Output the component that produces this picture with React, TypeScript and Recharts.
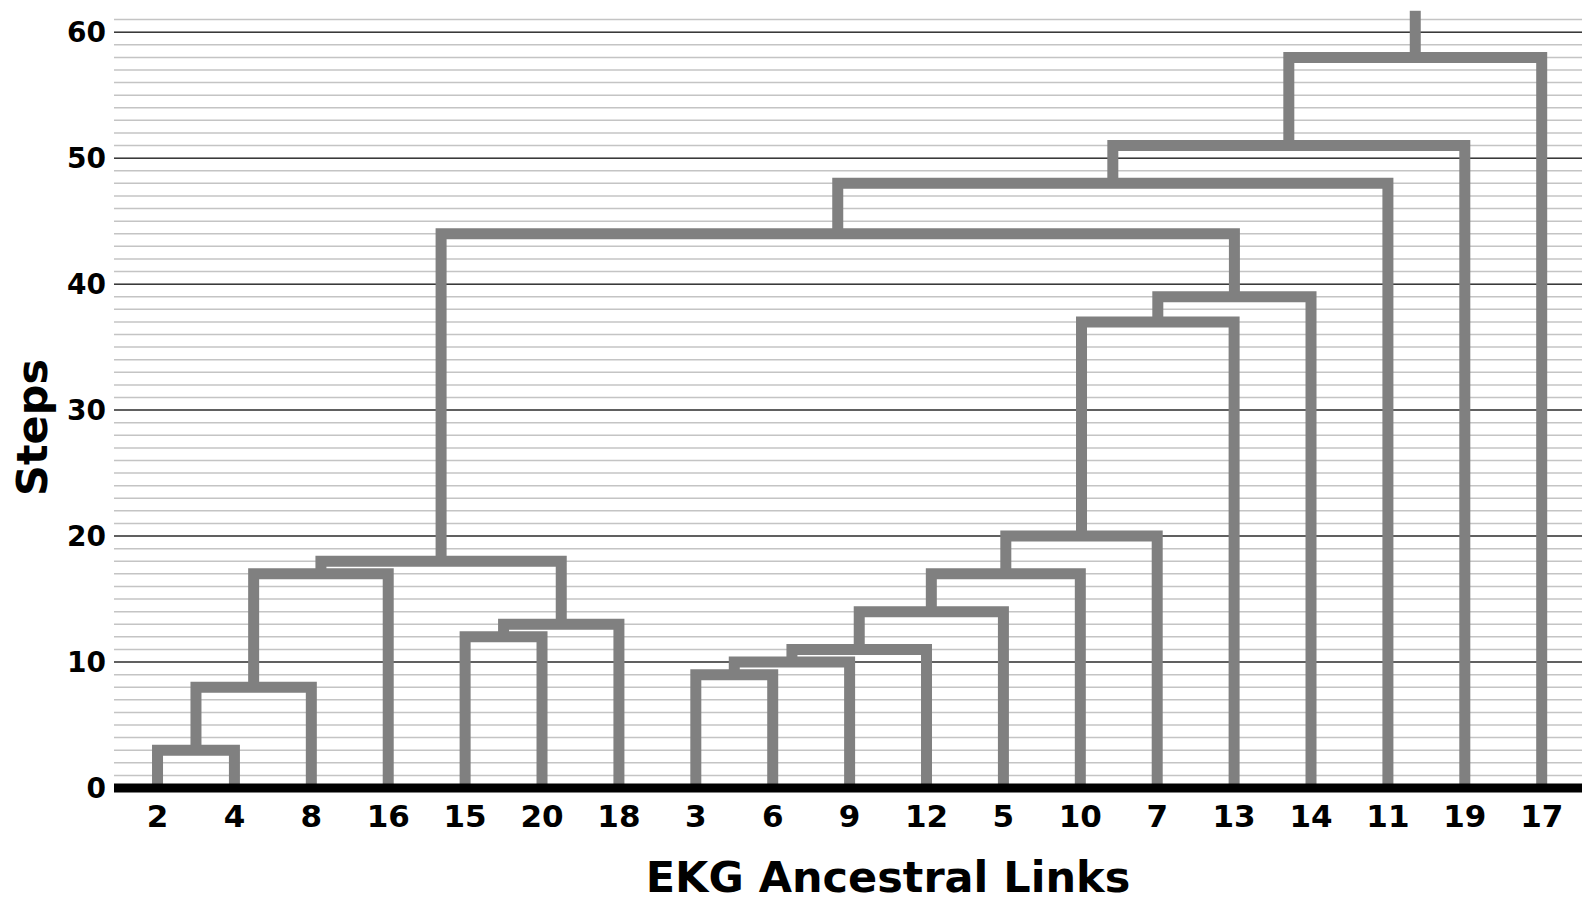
import React from 'react'
import { LineChart, Line, XAxis, YAxis, CartesianGrid } from 'recharts'

// leaves of the dendrogram, left to right
const leafLabels = ['2', '4', '8', '16', '15', '20', '18', '3', '6', '9', '12', '5', '10', '7', '13', '14', '11', '19', '17']

// merge i joins mergeLeft[i] and mergeRight[i] into node `m${i}` at mergeHeight[i]
const mergeLeft = ['2', 'm0', 'm1', '15', 'm3', 'm2', '3', 'm6', 'm7', 'm8', 'm9', 'm10', 'm11', 'm12', 'm5', 'm14', 'm15', 'm16']
const mergeRight = ['4', '8', '16', '20', '18', 'm4', '6', '9', '12', '5', '10', '7', '13', '14', 'm13', '11', '19', '17']
const mergeHeight = [3, 8, 17, 12, 13, 18, 9, 10, 11, 14, 17, 20, 37, 39, 44, 48, 51, 58]
const rootTop = 61.7

const yTicks = [0, 10, 20, 30, 40, 50, 60]
const yMinor = Array.from({ length: 61 }, (_, i) => i + 1)

const FONT = 'DejaVu Sans'
const LINK = '#808080'

type Pt = { x: number; y: number }

function buildLinks(): Pt[][] {
  const pos: Record<string, number> = {}
  const h: Record<string, number> = {}
  leafLabels.forEach((l, i) => {
    pos[l] = i
    h[l] = 0
  })
  const links = mergeHeight.map((height, i) => {
    const a = mergeLeft[i]
    const b = mergeRight[i]
    pos[`m${i}`] = (pos[a] + pos[b]) / 2
    h[`m${i}`] = height
    return [
      { x: pos[a], y: h[a] },
      { x: pos[a], y: height },
      { x: pos[b], y: height },
      { x: pos[b], y: h[b] },
    ]
  })
  const root = `m${mergeHeight.length - 1}`
  links.push([
    { x: pos[root], y: h[root] },
    { x: pos[root], y: rootTop },
  ])
  return links
}

const links = buildLinks()

function XTitle({ viewBox }: { viewBox?: { x: number; y: number; width: number; height: number } }) {
  if (!viewBox) return null
  return (
    <text x={viewBox.x + viewBox.width / 2 + 40} y={viewBox.y + 104} textAnchor="middle"
      fontFamily={FONT} fontWeight="bold" fontSize={43} fill="#000">
      EKG Ancestral Links
    </text>
  )
}

function YTitle({ viewBox }: { viewBox?: { x: number; y: number; width: number; height: number } }) {
  if (!viewBox) return null
  const x = viewBox.x + 47
  const y = viewBox.y + viewBox.height / 2 + 30
  return (
    <text x={x} y={y} transform={`rotate(-90, ${x}, ${y})`} textAnchor="middle"
      fontFamily={FONT} fontWeight="bold" fontSize={43} fill="#000">
      Steps
    </text>
  )
}

export default function App() {
  return (
    <div style={{ position: 'absolute', left: 0, top: 0, background: '#fff' }}>
      <LineChart width={1582} height={898} margin={{ top: 7, right: 0, bottom: 0, left: 0 }}>
        <CartesianGrid vertical={false} horizontalValues={yMinor} stroke="#c4c4c4" strokeWidth={1.5} />
        <CartesianGrid vertical={false} horizontalValues={yTicks} stroke="#3a3a3a" strokeWidth={1.5} />
        {links.map((d, i) => (
          <Line
            key={i}
            data={d}
            dataKey="y"
            type="linear"
            stroke={LINK}
            strokeWidth={11}
            strokeLinejoin="miter"
            strokeLinecap="butt"
            dot={false}
            activeDot={false}
            isAnimationActive={false}
          />
        ))}
        <XAxis
          dataKey="x"
          type="number"
          domain={[-0.566, 18.524]}
          allowDataOverflow
          ticks={leafLabels.map((_, i) => i)}
          tickFormatter={(v: number) => leafLabels[v] ?? ''}
          interval={0}
          height={110}
          tickLine={false}
          tickSize={0}
          tickMargin={17}
          axisLine={{ stroke: '#000', strokeWidth: 9 }}
          tick={{ fontFamily: FONT, fontWeight: 'bold', fontSize: 31, fill: '#000' }}
          label={<XTitle />}
        />
        <YAxis
          type="number"
          domain={[0, 62]}
          allowDataOverflow
          ticks={yTicks}
          interval={0}
          width={114}
          tickLine={false}
          tickSize={0}
          tickMargin={8}
          axisLine={false}
          tick={{ fontFamily: FONT, fontWeight: 'bold', fontSize: 28, fill: '#000' }}
          label={<YTitle />}
        />
      </LineChart>
    </div>
  )
}
